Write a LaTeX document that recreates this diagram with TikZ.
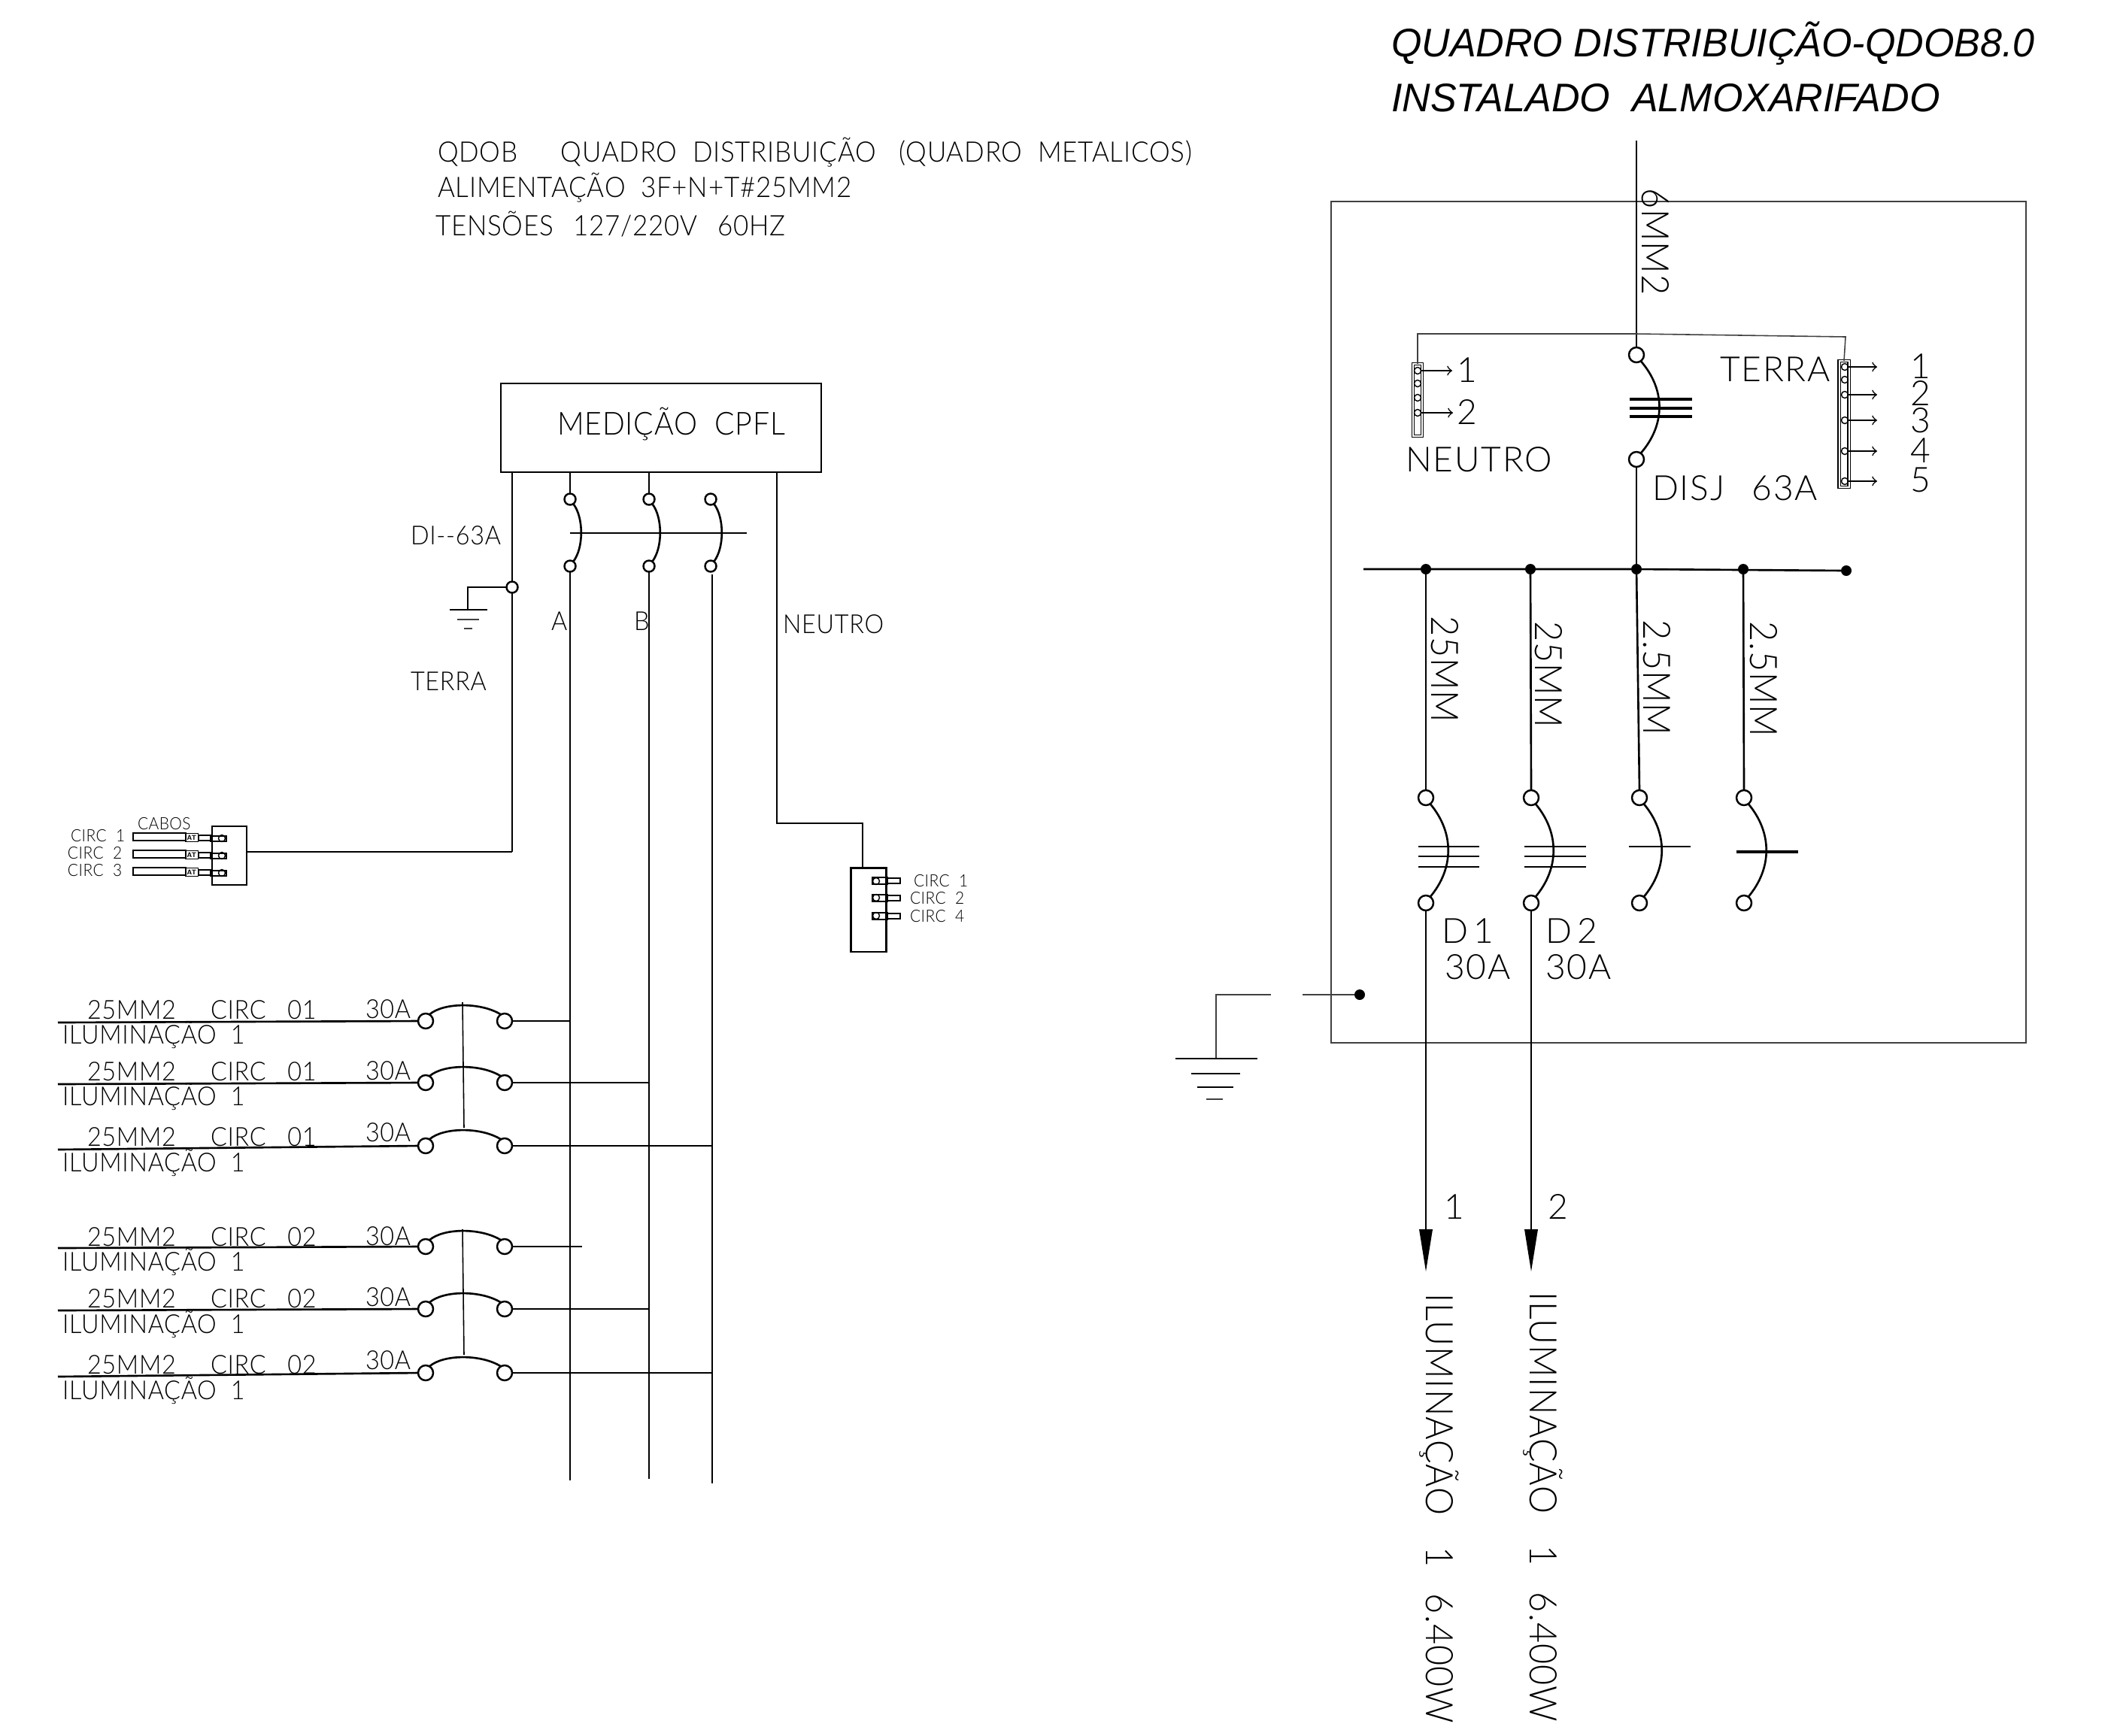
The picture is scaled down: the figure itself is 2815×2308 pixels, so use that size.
\documentclass[tikz,border=0pt]{standalone}
\usepackage{fontspec}
\usepackage{tikz}
\newfontfamily\cadfont[UprightFont=* Light,LetterSpace=4]{Lato}
\newfontfamily\cadtight[UprightFont=* Light,LetterSpace=2,FakeStretch=0.93]{Lato}
\newfontfamily\titlefont[FakeStretch=0.98]{Liberation Sans}
\begin{document}
\begin{tikzpicture}[x=0.01cm,y=-0.01cm,
every node/.style={inner sep=0pt, outer sep=0pt},
wire/.style={line width=0.75pt},
thinwire/.style={line width=0.45pt, color=black!75},
term/.style={circle, draw, line width=0.7pt, minimum size=0.2cm},
qterm/.style={circle, draw, line width=0.7pt, minimum size=0.15cm},
smallterm/.style={circle, draw, line width=0.4pt, minimum size=0.09cm},
dotnode/.style={circle, fill=black, minimum size=0.14cm},
boxnode/.style={rectangle, draw, line width=0.75pt},
barnode/.style={rectangle, draw, line width=0.3pt, double, double distance=0.02cm},
lbltiny/.style={anchor=base west, font=\cadtight\fontsize{6.4}{7}\selectfont},
lblrow/.style={anchor=base west, font=\cadtight\fontsize{9.9}{11}\selectfont},
lblhead/.style={anchor=base west, font=\cadtight\fontsize{10.7}{12}\selectfont},
lblmed/.style={anchor=base west, font=\cadtight\fontsize{12}{13}\selectfont},
lblbig/.style={anchor=base west, font=\cadfont\fontsize{13.1}{14}\selectfont},
lblrot/.style={anchor=base west, rotate=-90, font=\cadtight\fontsize{14.3}{15}\selectfont},
lbltitle/.style={anchor=base west, font=\titlefont\itshape\fontsize{15.1}{16}\selectfont}]
\useasboundingbox (0,0) rectangle (2815,2308);

\node[lbltitle] (title1) at (1850,75) {QUADRO DISTRIBUIÇÃO-QDOB8.0};
\node[lbltitle] (title2) at (1850,148) {INSTALADO\ \ ALMOXARIFADO};
\node[lblhead] (head1) at (582,215) {QDOB\ \ \ \ \ \,QUADRO\ \ DISTRIBUIÇÃO\ \ \ (QUADRO\ \ METALICOS)};
\node[lblhead] (head2) at (582,262) {ALIMENTAÇÃO\ \ 3F+N+T\#25MM2};
\node[lblhead] (head3) at (579,313) {TENSÕES\ \ \,127/220V\ \ \,60HZ};

\node[boxnode, minimum width=4.26cm, minimum height=1.18cm] (medicao) at (879,569) {};
\node[lblmed] (medicaolbl) at (741,578) {MEDIÇÃO\ \ CPFL};

\node[qterm] (qa1) at (758,664) {};
\node[qterm] (qa2) at (758,753) {};
\node[qterm] (qb1) at (863,664) {};
\node[qterm] (qb2) at (863,753) {};
\node[qterm] (qc1) at (945,664) {};
\node[qterm] (qc2) at (945,753) {};
\draw[wire] (qa1.-55) .. controls +(14,18) and +(14,-18) .. (qa2.55);
\draw[wire] (qb1.-55) .. controls +(14,18) and +(14,-18) .. (qb2.55);
\draw[wire] (qc1.-55) .. controls +(14,18) and +(14,-18) .. (qc2.55);
\draw[wire] (758,709) -- (993,709);
\draw[wire] (qa1 |- medicao.south) -- (qa1.north);
\draw[wire] (qb1 |- medicao.south) -- (qb1.north);
\coordinate (aend) at (758,1969);
\coordinate (bend) at (863,1967);
\coordinate (cstart) at (947,764);
\coordinate (cend) at (947,1973);
\draw[wire] (qa2.south) -- (aend);
\draw[wire] (qb2.south) -- (bend);
\draw[wire] (cstart) -- (cend);

\node[qterm] (qt) at (681,781) {};
\coordinate (qtcorner) at (622,781);
\coordinate (qtground) at (622,811);
\coordinate (qtturn) at (681,1133);
\draw[wire] (qt |- medicao.south) -- (qt.north);
\draw[wire] (qt.south) -- (qtturn);
\draw[wire] (qt.west) -- (qtcorner) -- (qtground);
\draw[wire] (598,811) -- (648,811);
\draw[thinwire] (608,824) -- (637,824);
\draw[thinwire] (617,836) -- (628,836);
\node[lblrow] (lbldi) at (546,724) {DI--63A};
\node[lblrow] (lblterra) at (546,918) {TERRA};
\node[lblrow] (lbla) at (733,838) {A};
\node[lblrow] (lblb) at (843,838) {B};
\node[lblrow] (lblneutro) at (1041,842) {NEUTRO};

\node[boxnode, line width=0.6pt, minimum width=0.46cm, minimum height=0.78cm] (boxt) at (305,1138) {};
\draw[wire] (qtturn) -- (qtturn -| boxt.east);
\node[lbltiny] (lblcabos) at (183,1103) {CABOS};
\node[lbltiny] (lblc1) at (94,1119) {CIRC\ \ 1};
\node[lbltiny] (lblc2) at (90,1142) {CIRC\ \ 2};
\node[lbltiny] (lblc3) at (90,1165) {CIRC\ \ 3};
\draw[thinwire, color=black] (177,1108) rectangle (247,1118);
\node[boxnode, line width=0.5pt, minimum width=0.17cm, minimum height=0.11cm, font=\sffamily\bfseries\fontsize{2.6}{3}\selectfont] (at1) at (255,1114) {AT};
\draw[thinwire, color=black] (264,1111) rectangle (280,1118);
\draw[line width=0.6pt] (280,1112) rectangle (301,1119);
\node[smallterm] (ct1) at (295,1115) {};
\draw[thinwire, color=black] (177,1131) rectangle (247,1141);
\node[boxnode, line width=0.5pt, minimum width=0.17cm, minimum height=0.11cm, font=\sffamily\bfseries\fontsize{2.6}{3}\selectfont] (at2) at (255,1137) {AT};
\draw[thinwire, color=black] (264,1134) rectangle (280,1141);
\draw[line width=0.6pt] (280,1135) rectangle (301,1142);
\node[smallterm] (ct2) at (295,1138) {};
\draw[thinwire, color=black] (177,1154) rectangle (247,1164);
\node[boxnode, line width=0.5pt, minimum width=0.17cm, minimum height=0.11cm, font=\sffamily\bfseries\fontsize{2.6}{3}\selectfont] (at3) at (255,1160) {AT};
\draw[thinwire, color=black] (264,1157) rectangle (280,1164);
\draw[line width=0.6pt] (280,1158) rectangle (301,1165);
\node[smallterm] (ct3) at (295,1161) {};

\coordinate (nstart) at (1033,1095);
\node[boxnode, line width=0.6pt, minimum width=0.47cm, minimum height=1.11cm] (boxn) at (1155,1210) {};
\draw[wire] (nstart |- medicao.south) -- (nstart) -- (1147,1095) -- (1147,1155);
\draw[line width=0.6pt] (1160,1167) rectangle (1180,1176);
\draw[thinwire, color=black] (1180,1168) rectangle (1197,1175);
\node[smallterm] (cn1) at (1165,1172) {};
\draw[line width=0.6pt] (1160,1190) rectangle (1180,1199);
\draw[thinwire, color=black] (1180,1191) rectangle (1197,1198);
\node[smallterm] (cn2) at (1165,1194) {};
\draw[line width=0.6pt] (1160,1214) rectangle (1180,1223);
\draw[thinwire, color=black] (1180,1215) rectangle (1197,1222);
\node[smallterm] (cn3) at (1165,1218) {};
\node[lbltiny] (lblc4) at (1215,1179) {CIRC\ \ 1};
\node[lbltiny] (lblc5) at (1210,1202) {CIRC\ \ 2};
\node[lbltiny] (lblc6) at (1210,1226) {CIRC\ \ 4};

\node[term] (b1a) at (566,1358) {};
\node[term] (b1b) at (671,1358) {};
\coordinate (b1top) at (615,1333);
\coordinate (b1ilum) at (77,1360);
\draw[wire] (b1ilum) -- (b1a.west);
\draw[wire] (b1b.east) -- (758,1358);
\draw[wire] (b1a.60) .. controls (590,1333) and (640,1333) .. (b1b.120);
\node[lblrow] (b1l1) at (116,1355) {25MM2};
\node[lblrow] (b1l2) at (280,1355) {CIRC\ \ \ 01};
\node[lblrow] (b1l3) at (486,1354) {30A};
\node[lblrow] (b1l4) at (83,1388) {ILUMINAÇÃO\ \ 1};

\node[term] (b2a) at (566,1440) {};
\node[term] (b2b) at (671,1440) {};
\coordinate (b2ilum) at (77,1442);
\draw[wire] (b2ilum) -- (b2a.west);
\draw[wire] (b2b.east) -- (863,1440);
\draw[wire] (b2a.60) .. controls (590,1415) and (640,1415) .. (b2b.120);
\node[lblrow] (b2l1) at (116,1437) {25MM2};
\node[lblrow] (b2l2) at (280,1437) {CIRC\ \ \ 01};
\node[lblrow] (b2l3) at (486,1436) {30A};
\node[lblrow] (b2l4) at (83,1470) {ILUMINAÇÃO\ \ 1};

\node[term] (b3a) at (566,1524) {};
\node[term] (b3b) at (671,1524) {};
\coordinate (b3ilum) at (77,1529);
\draw[wire] (b3ilum) -- (b3a.west);
\draw[wire] (b3b.east) -- (947,1524);
\draw[wire] (b3a.60) .. controls (590,1499) and (640,1499) .. (b3b.120);
\node[lblrow] (b3l1) at (116,1524) {25MM2};
\node[lblrow] (b3l2) at (280,1524) {CIRC\ \ \ 01};
\node[lblrow] (b3l3) at (486,1518) {30A};
\node[lblrow] (b3l4) at (83,1558) {ILUMINAÇÃO\ \ 1};
\draw[thinwire, color=black] (b1top) -- (617,1500);

\node[term] (b4a) at (566,1658) {};
\node[term] (b4b) at (671,1658) {};
\coordinate (b4ilum) at (77,1660);
\draw[wire] (b4ilum) -- (b4a.west);
\draw[wire] (b4b.east) -- (774,1658);
\draw[wire] (b4a.60) .. controls (590,1633) and (640,1633) .. (b4b.120);
\node[lblrow] (b4l1) at (116,1657) {25MM2};
\node[lblrow] (b4l2) at (280,1657) {CIRC\ \ \ 02};
\node[lblrow] (b4l3) at (486,1656) {30A};
\node[lblrow] (b4l4) at (83,1690) {ILUMINAÇÃO\ \ 1};

\node[term] (b5a) at (566,1741) {};
\node[term] (b5b) at (671,1741) {};
\coordinate (b5ilum) at (77,1743);
\draw[wire] (b5ilum) -- (b5a.west);
\draw[wire] (b5b.east) -- (863,1741);
\draw[wire] (b5a.60) .. controls (590,1716) and (640,1716) .. (b5b.120);
\node[lblrow] (b5l1) at (116,1739) {25MM2};
\node[lblrow] (b5l2) at (280,1739) {CIRC\ \ \ 02};
\node[lblrow] (b5l3) at (486,1737) {30A};
\node[lblrow] (b5l4) at (83,1773) {ILUMINAÇÃO\ \ 1};

\node[term] (b6a) at (566,1826) {};
\node[term] (b6b) at (671,1826) {};
\coordinate (b6ilum) at (77,1831);
\draw[wire] (b6ilum) -- (b6a.west);
\draw[wire] (b6b.east) -- (947,1826);
\draw[wire] (b6a.60) .. controls (590,1801) and (640,1801) .. (b6b.120);
\node[lblrow] (b6l1) at (116,1827) {25MM2};
\node[lblrow] (b6l2) at (280,1827) {CIRC\ \ \ 02};
\node[lblrow] (b6l3) at (486,1821) {30A};
\node[lblrow] (b6l4) at (83,1861) {ILUMINAÇÃO\ \ 1};
\draw[thinwire, color=black] (615,1635) -- (617,1802);

\draw[thinwire] (1770,268) rectangle (2694,1387);

\coordinate (mainin) at (2176,187);
\node[term] (dg1) at (2176,472) {};
\node[term] (dg2) at (2176,611) {};
\node[dotnode] (bus1) at (1896,757) {};
\node[dotnode] (bus2) at (2035,757) {};
\node[dotnode] (bus3) at (2176,757) {};
\node[dotnode] (bus4) at (2318,757) {};
\node[dotnode] (bus5) at (2455,759) {};
\coordinate (busleft) at (1813,757);
\draw[wire] (mainin) -- (dg1.north);
\draw[wire] (dg2.south) -- (bus3);
\draw[wire] (dg1.-55) .. controls +(33,38) and +(33,-38) .. (dg2.55);
\draw[wire, line width=1pt] (2167,531) -- (2250,531);
\draw[wire, line width=1pt] (2167,543) -- (2250,543);
\draw[wire, line width=1pt] (2167,554) -- (2250,554);
\draw[wire] (busleft) -- (bus3) -- (bus5);
\node[lblrot] (lbl6mm) at (2183,250) {6MM2};
\node[lblbig] (lbldisj) at (2197,665) {DISJ\ \ \,63A};

\node[barnode, minimum width=0.12cm, minimum height=0.96cm] (barn) at (1885,532) {};
\node[barnode, minimum width=0.13cm, minimum height=1.68cm] (bart) at (2452,564) {};
\node[smallterm] (n1) at (1885,493) {};
\node[smallterm] (n2) at (1885,510) {};
\node[smallterm] (n3) at (1885,529) {};
\node[smallterm] (n4) at (1885,549) {};
\node[smallterm] (t1) at (2453,488) {};
\node[smallterm] (t2) at (2453,505) {};
\node[smallterm] (t3) at (2453,525) {};
\node[smallterm] (t4) at (2453,559) {};
\node[smallterm] (t5) at (2453,600) {};
\node[smallterm] (t6) at (2453,640) {};
\coordinate (narrow1) at (1931,493);
\coordinate (narrow2) at (1932,549);
\coordinate (tarrow1) at (2496,488);
\coordinate (tarrow2) at (2496,525);
\coordinate (tarrow3) at (2496,559);
\coordinate (tarrow4) at (2496,600);
\coordinate (tarrow5) at (2496,640);
\draw[thinwire, color=black, ->] (n1.east) -- (narrow1);
\draw[thinwire, color=black, ->] (n4.east) -- (narrow2);
\draw[thinwire, color=black, ->] (t1.east) -- (tarrow1);
\draw[thinwire, color=black, ->] (t3.east) -- (tarrow2);
\draw[thinwire, color=black, ->] (t4.east) -- (tarrow3);
\draw[thinwire, color=black, ->] (t5.east) -- (tarrow4);
\draw[thinwire, color=black, ->] (t6.east) -- (tarrow5);
\draw[thinwire] (barn.north) -- (1885,444) -- (2176,444) -- (2454,448) -- (bart.north);
\node[lblbig] (lbln1) at (1937,508) {1};
\node[lblbig] (lbln2) at (1937,564) {2};
\node[lblbig] (lblneutro2) at (1869,627) {NEUTRO};
\node[lblbig] (lblterra2) at (2287,507) {TERRA};
\node[lblbig] (lblt1) at (2540,503) {1};
\node[lblbig] (lblt2) at (2540,539) {2};
\node[lblbig] (lblt3) at (2540,575) {3};
\node[lblbig] (lblt4) at (2540,615) {4};
\node[lblbig] (lblt5) at (2540,654) {5};

\node[term] (d1a) at (1896,1061) {};
\node[term] (d1b) at (1896,1201) {};
\node[term] (d2a) at (2036,1061) {};
\node[term] (d2b) at (2036,1201) {};
\node[term] (d3a) at (2180,1061) {};
\node[term] (d3b) at (2180,1201) {};
\node[term] (d4a) at (2319,1061) {};
\node[term] (d4b) at (2319,1201) {};
\draw[wire] (bus1) -- (d1a.north);
\draw[wire] (bus2) -- (d2a.north);
\draw[wire] (bus3) -- (d3a.north);
\draw[wire] (bus4) -- (d4a.north);
\draw[wire] (d1a.-55) .. controls +(32,38) and +(32,-38) .. (d1b.55);
\draw[wire] (d2a.-55) .. controls +(32,38) and +(32,-38) .. (d2b.55);
\draw[wire] (d3a.-55) .. controls +(32,38) and +(32,-38) .. (d3b.55);
\draw[wire] (d4a.-55) .. controls +(32,38) and +(32,-38) .. (d4b.55);
\draw[wire] (1886,1126) -- (1967,1126);
\draw[wire] (1886,1139) -- (1967,1139);
\draw[wire] (1886,1153) -- (1967,1153);
\draw[wire] (2027,1126) -- (2109,1126);
\draw[wire] (2027,1139) -- (2109,1139);
\draw[wire] (2027,1153) -- (2109,1153);
\draw[wire] (2166,1126) -- (2248,1126);
\draw[wire, line width=1pt] (2309,1133) -- (2391,1133);
\node[lblbig] (lbld1) at (1917,1254) {D\,1};
\node[lblbig] (lbla1) at (1921,1302) {30A};
\node[lblbig] (lbld2) at (2055,1254) {D\,2};
\node[lblbig] (lbla2) at (2055,1302) {30A};
\node[lblrot] (lblw1) at (1903,819) {25MM};
\node[lblrot] (lblw2) at (2041,826) {25MM};
\node[lblrot] (lblw3) at (2185,824) {2.5MM};
\node[lblrot] (lblw4) at (2327,826) {2.5MM};

\coordinate (out1) at (1896,1691);
\coordinate (out2) at (2036,1691);
\draw[wire] (d1b.south) -- (1896,1635);
\draw[wire] (d2b.south) -- (2036,1635);
\fill (1887,1635) -- (1905,1635) -- (out1) -- cycle;
\fill (2027,1635) -- (2045,1635) -- (out2) -- cycle;
\node[lblbig] (lblout1) at (1920,1621) {1};
\node[lblbig] (lblout2) at (2058,1621) {2};
\node[lblrot] (lblilum1) at (1896,1720) {ILUMINAÇÃO\ \ \ 1\ \ \,6.400W};
\node[lblrot] (lblilum2) at (2034,1718) {ILUMINAÇÃO\ \ \ 1\ \ \,6.400W};

\coordinate (gndcut1) at (1690,1323);
\coordinate (gndcorner) at (1617,1323);
\coordinate (gndbase) at (1617,1408);
\coordinate (gndcut2) at (1732,1323);
\node[dotnode] (gnddot) at (1808,1323) {};
\draw[thinwire] (gndcut1) -- (gndcorner) -- (gndbase);
\draw[thinwire] (gndcut2) -- (gnddot);
\draw[wire] (1563,1408) -- (1672,1408);
\draw[thinwire, color=black] (1584,1428) -- (1649,1428);
\draw[thinwire, color=black] (1592,1446) -- (1640,1446);
\draw[thinwire] (1604,1462) -- (1626,1462);
\end{tikzpicture}
\end{document}
